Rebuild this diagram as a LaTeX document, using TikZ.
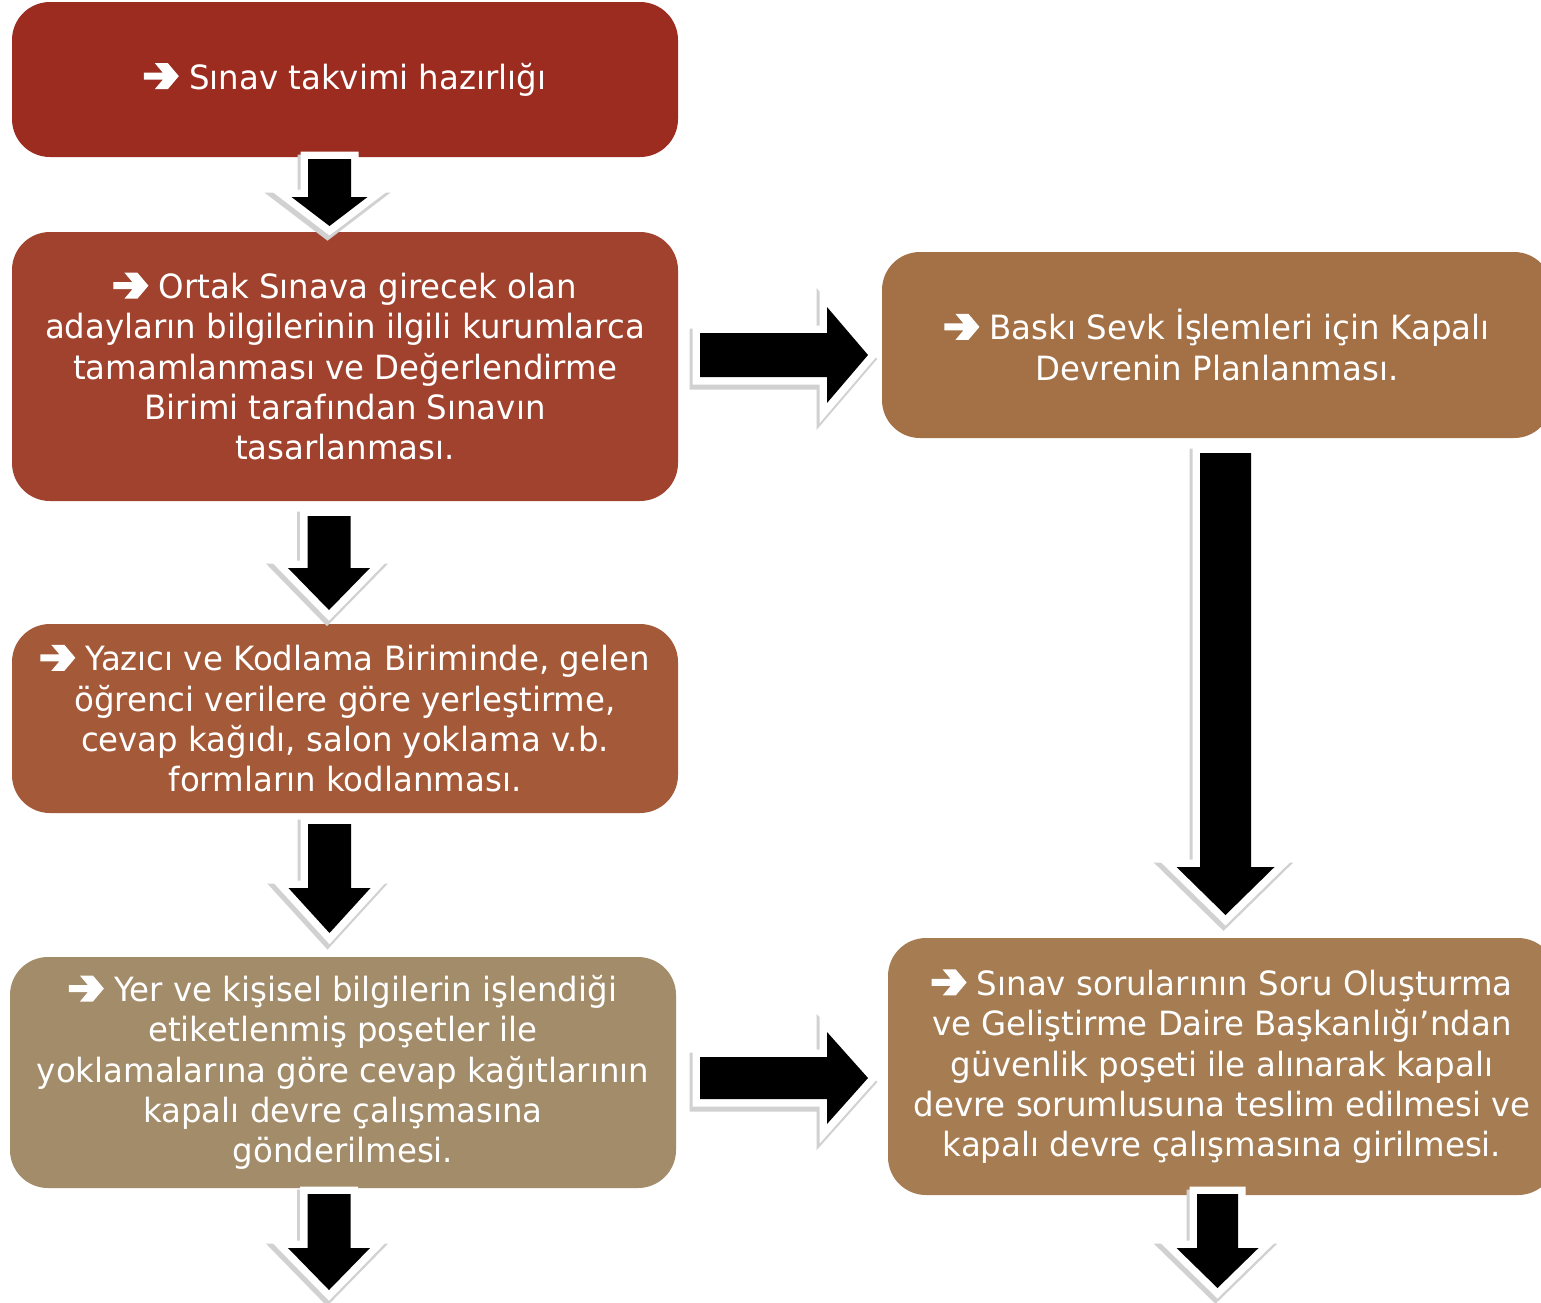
\documentclass[tikz,border=0pt]{standalone}
\usepackage{fontspec}
\setmainfont{DejaVu Sans}[FakeStretch=0.97]
\definecolor{cA}{HTML}{9B2C1F}
\definecolor{cB}{HTML}{A0422D}
\definecolor{cC}{HTML}{A45A38}
\definecolor{cD}{HTML}{A38C69}
\definecolor{cE}{HTML}{A47045}
\definecolor{cF}{HTML}{A67D53}
\tikzset{
  box/.style={rounded corners=38pt, inner sep=0pt, text=white, align=center,
    font=\fontsize{33.4}{40.3}\selectfont},
  arrowshade/.style={draw=black!18, line width=17pt, line join=miter, fill=black!18},
  arrowbody/.style={draw=white, line width=15pt, line join=miter, fill=black},
  arrowcore/.style={fill=black}
}
\newcommand\bullarrow{\tikz[baseline=0pt,x=1pt,y=1pt,sharp corners,line width=0.4pt]\fill[white,sharp corners] (0,9.5) -- (19,9.5) -- (11,0) -- (24,0) -- (35,13) -- (24,26) -- (11,26) -- (19,16.5) -- (0,16.5) -- cycle;}
% cx, ytop, ybase, ytip, shaft half, head half
\newcommand\blkdown[6]{%
  \path[arrowshade, shift={(-2pt,-4pt)}] (#1-#5,#2) -- (#1+#5,#2) -- (#1+#5,#3) -- (#1+#6,#3) -- (#1,#4) -- (#1-#6,#3) -- (#1-#5,#3) -- cycle;
  \path[arrowbody] (#1-#5,#2) -- (#1+#5,#2) -- (#1+#5,#3) -- (#1+#6,#3) -- (#1,#4) -- (#1-#6,#3) -- (#1-#5,#3) -- cycle;
  \path[arrowcore] (#1-#5,#2) -- (#1+#5,#2) -- (#1+#5,#3) -- (#1+#6,#3) -- (#1,#4) -- (#1-#6,#3) -- (#1-#5,#3) -- cycle;}
% cy, xleft, xbase, xtip, shaft half, head half
\newcommand\blkright[6]{%
  \path[arrowshade, shift={(-2pt,-4pt)}] (#2,#1-#5) -- (#3,#1-#5) -- (#3,#1-#6) -- (#4,#1) -- (#3,#1+#6) -- (#3,#1+#5) -- (#2,#1+#5) -- cycle;
  \path[arrowbody] (#2,#1-#5) -- (#3,#1-#5) -- (#3,#1-#6) -- (#4,#1) -- (#3,#1+#6) -- (#3,#1+#5) -- (#2,#1+#5) -- cycle;
  \path[arrowcore] (#2,#1-#5) -- (#3,#1-#5) -- (#3,#1-#6) -- (#4,#1) -- (#3,#1+#6) -- (#3,#1+#5) -- (#2,#1+#5) -- cycle;}
\begin{document}
\begin{tikzpicture}[x=1pt,y=-1pt]
\useasboundingbox (0,0) rectangle (1541,1302);
\clip (0,0) rectangle (1541,1302);
\fill[white] (0,0) rectangle (1541,1302);

\node[box, fill=cA, minimum width=666pt, minimum height=155pt] (b1) at (345,79.5)
  {\bullarrow{} Sınav takvimi hazırlığı};
\node[box, fill=cB, minimum width=666pt, minimum height=269pt] (b2) at (345,366.5)
  {\bullarrow{} Ortak Sınava girecek olan\\adayların bilgilerinin ilgili kurumlarca\\tamamlanması ve Değerlendirme\\Birimi tarafından Sınavın\\tasarlanması.};
\node[box, fill=cC, minimum width=666pt, minimum height=189pt] (b3) at (345,718.5)
  {\bullarrow{} Yazıcı ve Kodlama Biriminde, gelen\\öğrenci verilere göre yerleştirme,\\cevap kağıdı, salon yoklama v.b.\\formların kodlanması.};
\node[box, fill=cD, minimum width=666pt, minimum height=231pt] (b4) at (343,1072.5)
  {\bullarrow{} Yer ve kişisel bilgilerin işlendiği\\etiketlenmiş poşetler ile\\yoklamalarına göre cevap kağıtlarının\\kapalı devre çalışmasına\\gönderilmesi.};
\node[box, fill=cE, minimum width=670pt, minimum height=186pt] (b5) at (1217,345)
  {\bullarrow{} Baskı Sevk İşlemleri için Kapalı\\Devrenin Planlanması.};
\node[box, fill=cF, minimum width=668pt, minimum height=257pt] (b6) at (1222,1066.5)
  {\bullarrow{} Sınav sorularının Soru Oluşturma\\ve Geliştirme Daire Başkanlığı’ndan\\güvenlik poşeti ile alınarak kapalı\\devre sorumlusuna teslim edilmesi ve\\kapalı devre çalışmasına girilmesi.};

% down arrows (left column)
\blkdown{329.5}{159}{197}{226}{21.5}{38}
\blkdown{329}{516}{568}{610}{21.5}{41}
\blkdown{329.5}{824}{888}{933}{21.5}{41}
\blkdown{329}{1194}{1248}{1290}{21.5}{41}
% right column
\blkdown{1225.5}{453}{867}{915}{25.5}{49}
\blkdown{1217.5}{1194}{1248}{1288}{20.5}{41}
% right arrows
\blkright{355}{700}{827}{868}{22}{48}
\blkright{1078}{700}{827}{868}{21}{46}
\end{tikzpicture}
\end{document}
